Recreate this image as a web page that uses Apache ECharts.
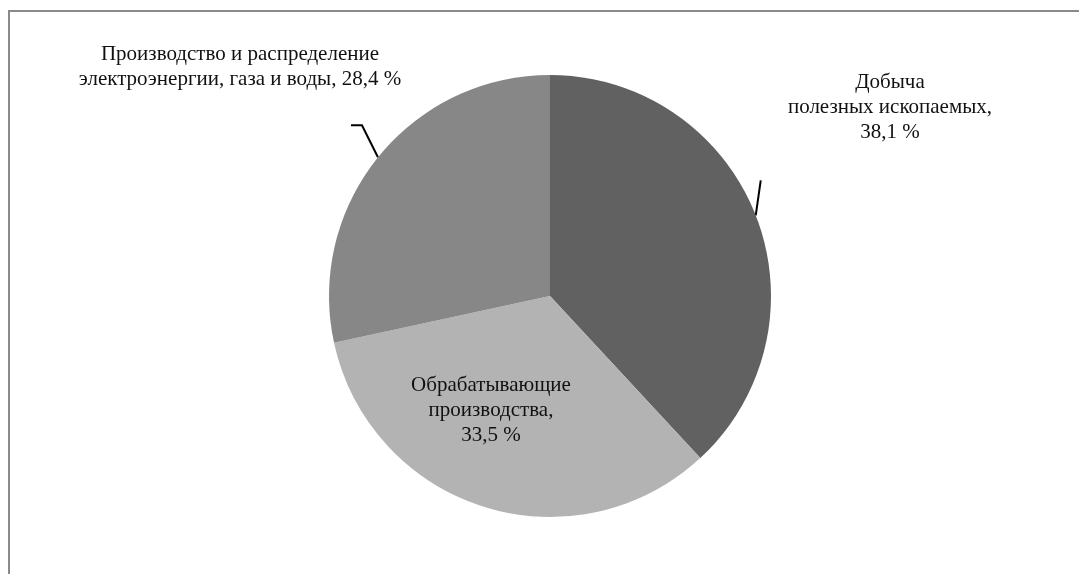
<!DOCTYPE html>
<html>
<head>
<meta charset="utf-8">
<script src="https://cdn.jsdelivr.net/npm/echarts@6/dist/echarts.min.js"></script>
<style>
html, body { margin: 0; padding: 0; background: #fff; }
#frame {
	position: absolute; left: 8px; top: 10px; width: 1200px; height: 700px;
	border-left: 2px solid #8a8a8a; border-top: 2px solid #8a8a8a;
}
#main { position: absolute; left: 0; top: 0; width: 1079px; height: 574px; }
</style>
</head>
<body>
<div id="frame"></div>
<div id="main"></div>
<script>
// доли отраслей, %
var categories = ['Добыча\nполезных ископаемых,', 'Обрабатывающие\nпроизводства,', 'Производство и распределение\nэлектроэнергии, газа и воды,'];
var values = [38.1, 33.5, 28.4];
var valueLabels = ['38,1 %', '33,5 %', '28,4 %'];
var colors = ['#616161', '#b3b3b3', '#878787'];

var seriesData = categories.map(function (name, i) {
	var item = { name: name, value: values[i], itemStyle: { color: colors[i] } };
	if (i === 1) {
		item.label = { position: 'inside' };
		item.labelLine = { show: false };
	}
	return item;
});

// где стоят подписи и как идут выноски
var labelPos = [
	{ x: 890, y: 107 },
	{ x: 491, y: 410 },
	{ x: 240, y: 67 }
];

var options = {
	animation: false,
	series: [
		{
			type: 'pie',
			center: [550, 296],
			radius: 221,
			startAngle: 90,
			clockwise: true,
			silent: true,
			data: seriesData,
			itemStyle: { borderWidth: 0 },
			label: {
				show: true,
				position: 'outside',
				color: '#111',
				fontFamily: 'Liberation Serif',
				fontSize: 21,
				lineHeight: 25,
				align: 'center',
				formatter: function (p) {
					var name = p.name;
					// у третьей подписи процент в той же строке
					if (p.dataIndex === 2) return name + ' ' + valueLabels[p.dataIndex];
					return name + '\n' + valueLabels[p.dataIndex];
				}
			},
			labelLine: {
				show: true,
				length: 20,
				length2: 10,
				lineStyle: { color: '#000', width: 2 }
			},
			labelLayout: function (p) {
				var pos = labelPos[p.dataIndex];
				var res = { x: pos.x, y: pos.y, align: 'center', verticalAlign: 'middle' };
				var pts = p.labelLinePoints;
				if (pts && pts.length) {
					var a = pts[0];
					if (p.dataIndex === 0) {
						res.labelLinePoints = [[a[0], a[1]], [a[0] + 5, a[1] - 35]];
					} else if (p.dataIndex === 2) {
						res.labelLinePoints = [[a[0], a[1]], [a[0] - 16, a[1] - 32], [a[0] - 27, a[1] - 32]];
					}
				}
				return res;
			}
		}
	]
};

var myChart = echarts.init(document.getElementById('main'));
myChart.setOption(options);
</script>
</body>
</html>
